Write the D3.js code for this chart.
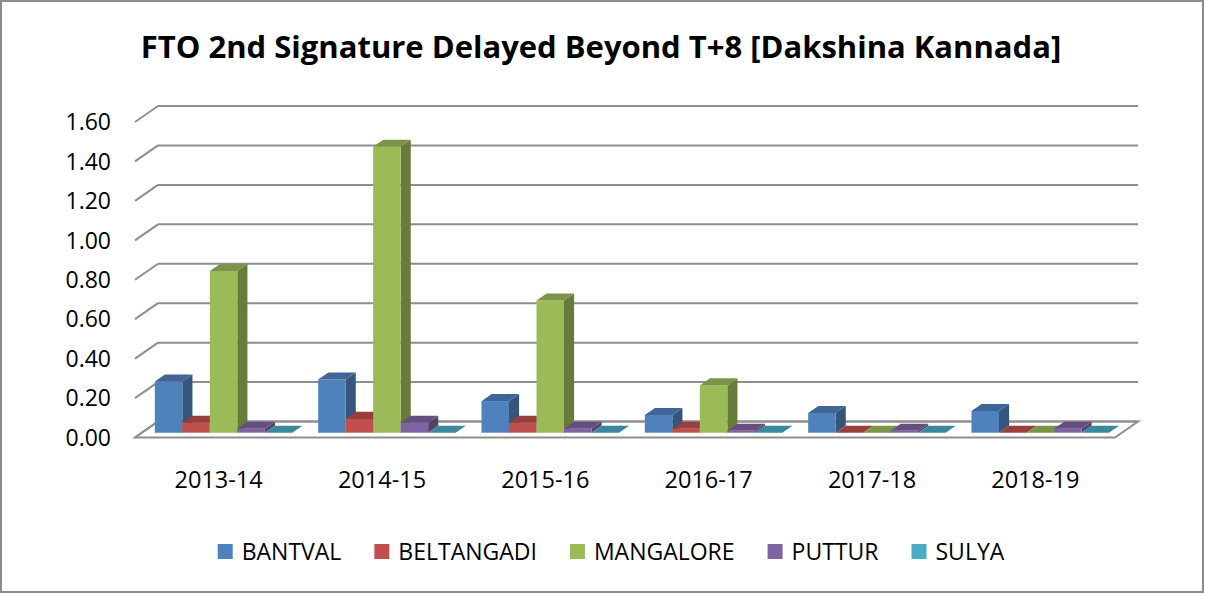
<!DOCTYPE html>
<html>
<head>
<meta charset="utf-8">
<script src="https://cdn.jsdelivr.net/npm/d3@7"></script>
<style>
  html, body { margin: 0; padding: 0; background: #fff; }
  svg { display: block; font-family: "Open Sans", "DejaVu Sans", sans-serif; }
</style>
</head>
<body>
<svg id="chart" width="1205" height="594"></svg>
<script>
// Financial years on the category axis
const categories = ["2013-14", "2014-15", "2015-16", "2016-17", "2017-18", "2018-19"];
// Blocks of Dakshina Kannada district
const seriesNames = ["BANTVAL", "BELTANGADI", "MANGALORE", "PUTTUR", "SULYA"];
const seriesColors = ["#4F81BD", "#C0504D", "#9BBB59", "#8064A2", "#4BACC6"];
// Values per block, one entry per year
const bantval    = [0.26, 0.27, 0.16, 0.09, 0.10, 0.11];
const beltangadi = [0.05, 0.07, 0.05, 0.02, 0.00, 0.00];
const mangalore  = [0.82, 1.45, 0.67, 0.24, 0.00, 0.00];
const puttur     = [0.02, 0.05, 0.02, 0.01, 0.01, 0.02];
const sulya      = [0.00, 0.00, 0.00, 0.00, 0.00, 0.00];
const seriesValues = [bantval, beltangadi, mangalore, puttur, sulya];
// Value axis ticks
const yTicks = [0, 0.2, 0.4, 0.6, 0.8, 1.0, 1.2, 1.4, 1.6];

const svg = d3.select("#chart");
const W = 1205, H = 594;

// chart frame
svg.append("rect")
  .attr("x", 1).attr("y", 1).attr("width", W - 3).attr("height", H - 3)
  .attr("fill", "#fff").attr("stroke", "#8c8c8c").attr("stroke-width", 2);

// title
svg.append("text")
  .attr("x", 601).attr("y", 58)
  .attr("text-anchor", "middle")
  .attr("font-weight", "bold")
  .attr("font-size", 31)
  .attr("fill", "#000")
  .text("FTO 2nd Signature Delayed Beyond T+8 [Dakshina Kannada]");

// front-plane scales and oblique depth offset
const x0 = d3.scaleBand().domain(categories).range([135, 1115]).paddingInner(0).paddingOuter(0);
const x1 = d3.scaleBand().domain(seriesNames).range([0, x0.bandwidth()]).paddingInner(0).paddingOuter(0.47);
const y = d3.scaleLinear().domain([0, 1.6]).range([437.5, 122]);
const DX = 23, DY = -16;
const P = (xf, v, z) => [xf + z * DX, y(v) + z * DY];
const poly = pts => "M" + pts.map(p => p.join(",")).join("L") + "Z";
const seg = (a, b) => "M" + a.join(",") + "L" + b.join(",");

const xL = x0.range()[0], xR = x0.range()[1];
const gridColor = "#8e8e8e";

// floor
svg.append("path")
  .attr("d", poly([P(xL, 0, 0), P(xR, 0, 0), P(xR, 0, 1), P(xL, 0, 1)]))
  .attr("fill", "#fff").attr("stroke", gridColor).attr("stroke-width", 2);

// gridlines on side wall and back wall
const grid = svg.append("g").attr("fill", "none").attr("stroke", gridColor).attr("stroke-width", 2);
yTicks.forEach(t => {
  grid.append("path").attr("d", seg(P(xL, t, 0), P(xL, t, 1)));
  grid.append("path").attr("d", seg(P(xL, t, 1), P(xR, t, 1)));
});

// value axis labels
svg.append("g").selectAll("text").data(yTicks).join("text")
  .attr("x", 111).attr("y", d => y(d))
  .attr("dy", "0.36em")
  .attr("text-anchor", "end")
  .attr("font-size", 23)
  .attr("fill", "#000")
  .text(d => d3.format(".2f")(d));

// category labels
svg.append("g").selectAll("text").data(categories).join("text")
  .attr("x", d => x0(d) + x0.bandwidth() / 2 + 2)
  .attr("y", 488)
  .attr("text-anchor", "middle")
  .attr("font-size", 23.5)
  .attr("fill", "#000")
  .text(d => d);

// 3D columns, drawn left to right so each front face covers the neighbour's side
const z0 = 0.3, z1 = 0.74;
const bars = svg.append("g");
categories.forEach((c, ci) => {
  seriesNames.forEach((s, si) => {
    const v = seriesValues[si][ci];
    const a = x0(c) + x1(s), b = a + x1.bandwidth();
    const base = d3.color(seriesColors[si]);
    const g = bars.append("g");
    g.append("path") // side
      .attr("d", poly([P(b, 0, z0), P(b, 0, z1), P(b, v, z1), P(b, v, z0)]))
      .attr("fill", base.darker(1.15).formatHex());
    g.append("path") // front
      .attr("d", poly([P(a, 0, z0), P(b, 0, z0), P(b, v, z0), P(a, v, z0)]))
      .attr("fill", base.formatHex());
    g.append("path") // top
      .attr("d", poly([P(a, v, z0), P(b, v, z0), P(b, v, z1), P(a, v, z1)]))
      .attr("fill", base.darker(0.65).formatHex());
  });
});

// legend
const legend = svg.append("g");
let lx = 0;
seriesNames.forEach((name, i) => {
  const g = legend.append("g");
  g.append("rect").attr("x", 0).attr("y", -8).attr("width", 15).attr("height", 15)
    .attr("fill", seriesColors[i]);
  const t = g.append("text").attr("x", 24).attr("y", 0).attr("dy", "0.36em")
    .attr("font-size", 23).attr("fill", "#000").text(name);
  const w = 24 + t.node().getComputedTextLength();
  g.attr("transform", `translate(${lx},0)`);
  lx += w + 33;
});
const total = lx - 33;
legend.attr("transform", `translate(${611 - total / 2},552)`);
</script>
</body>
</html>
